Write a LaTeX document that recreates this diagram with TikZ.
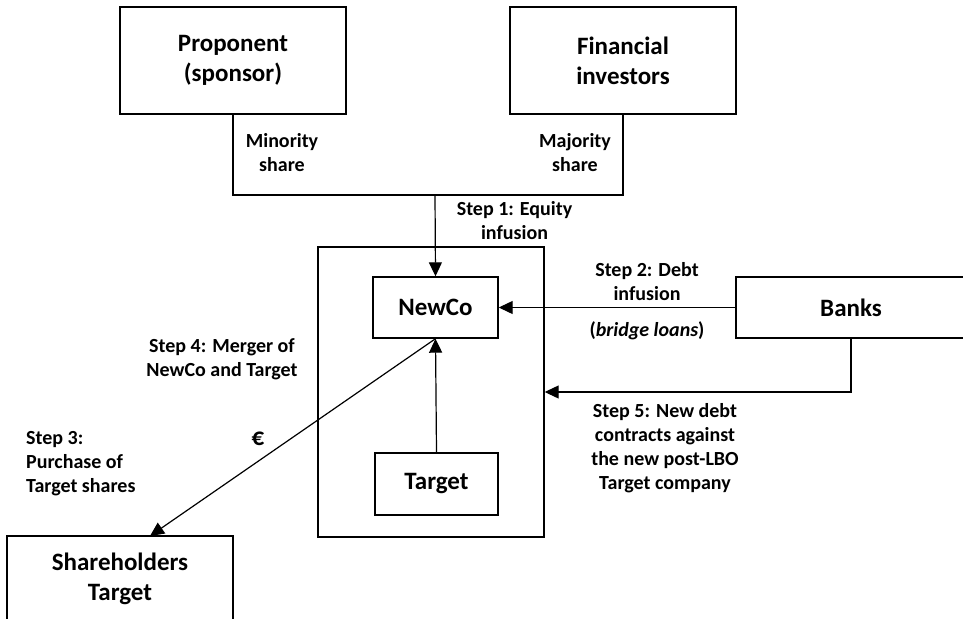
\documentclass[tikz,border=0pt]{standalone}
\usepackage{fontspec}
\setmainfont{Carlito}
\usetikzlibrary{arrows.meta}
\begin{document}
\begin{tikzpicture}[x=1pt,y=-1pt,
  box/.style={draw, line width=1.4pt, inner sep=0pt, font=\bfseries\fontsize{25}{30}\selectfont, align=center},
  lbl/.style={inner sep=0pt, font=\bfseries\fontsize{20}{24}\selectfont, align=center},
  conn/.style={line width=1.2pt},
  arr/.style={line width=1.2pt, -{Triangle[length=14pt,width=13pt]}}]
\useasboundingbox (0,0) rectangle (963,618);
\clip (0,0) rectangle (963,618);
% boxes
\node[box, minimum width=226pt, minimum height=107pt] (prop) at (233,60.5) {Proponent\\(sponsor)};
\node[box, minimum width=226pt, minimum height=107pt] (fin) at (623,60.5) {Financial\\investors};
\node[box, minimum width=226pt, minimum height=290pt] (co) at (431,392) {};
\node[box, minimum width=125pt, minimum height=61pt] (newco) at (435.5,307.5) {NewCo};
\node[box, minimum width=123pt, minimum height=62pt] (target) at (436.5,484) {Target};
\node[box, minimum width=230pt, minimum height=61pt] (banks) at (851,307.5) {Banks};
\node[box, minimum width=226pt, minimum height=86pt] (sh) at (120,579) {Shareholders\\Target};
% connectors
\coordinate (j) at (435,195);
\coordinate (shtop) at (150,536);
\draw[conn] (prop.south) |- (j) -| (fin.south);
\draw[arr] (j) -- (newco.north);
\draw[arr] (banks.west) -- (newco.east);
\draw[arr] (banks.south) |- (co.east);
\draw[arr] (target.north) -- (newco.south);
\draw[arr] (newco.south) -- (shtop);
% labels
\node[lbl] (min) at (282,152.5) {Minority\\share};
\node[lbl] (maj) at (575,152.5) {Majority\\share};
\node[lbl] (s1) at (514.5,221) {Step 1: Equity\\infusion};
\node[lbl] (s2) at (647,281.5) {Step 2: Debt\\infusion};
\node[lbl] (s2b) at (647,331) {(\textit{bridge loans})};
\node[lbl] (s4) at (222,359.5) {Step 4: Merger of\\NewCo and Target};
\node[lbl, align=left, anchor=west] (s3) at (26,464) {Step 3:\\Purchase of\\Target shares};
\node[lbl, font=\bfseries\fontsize{25}{30}\selectfont] (eur) at (258,439) {€};
\node[lbl] (s5) at (665,448) {Step 5: New debt\\contracts against\\the new post-LBO\\Target company};
\end{tikzpicture}
\end{document}
